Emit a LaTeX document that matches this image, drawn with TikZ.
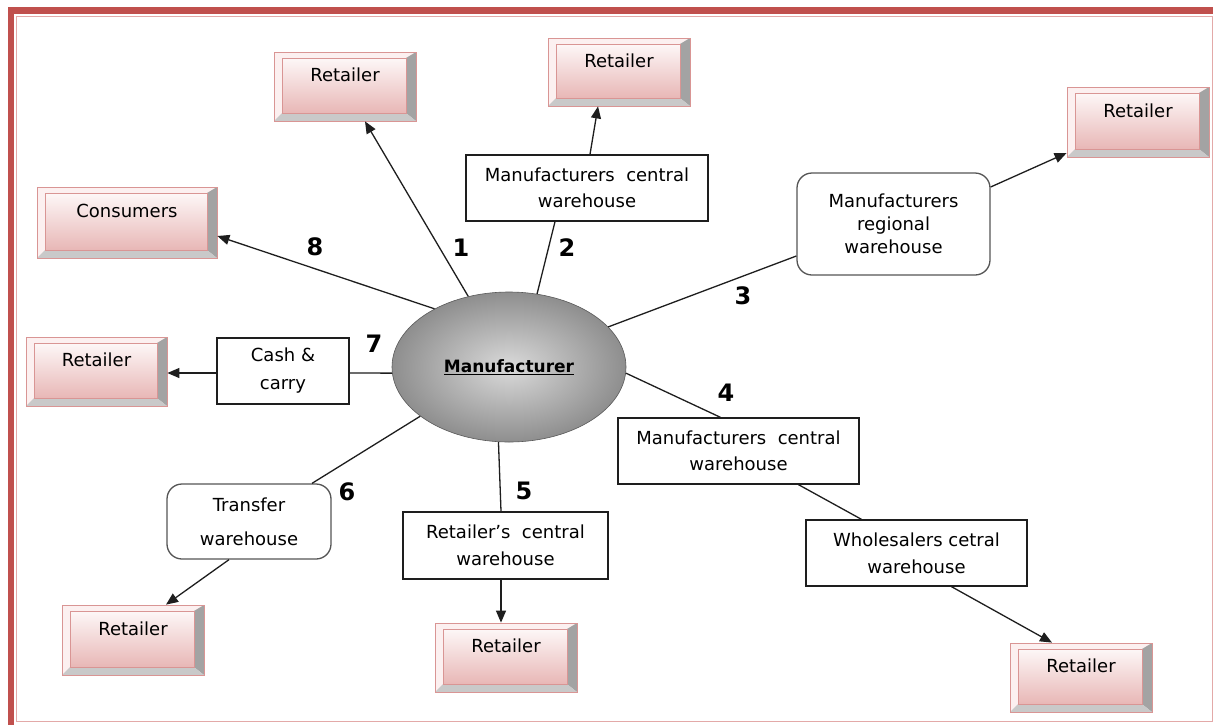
\documentclass[tikz,border=0pt]{standalone}
\usepackage{fontspec}
\setmainfont{DejaVu Sans}
\usetikzlibrary{shapes.geometric,arrows.meta,calc}

\definecolor{framered}{HTML}{C0504D}
\definecolor{framepink}{HTML}{E3A9A8}
\definecolor{bevelline}{HTML}{D99594}
\definecolor{bevelright}{HTML}{A3A3A3}
\definecolor{bevelbottom}{HTML}{C9C9C9}
\definecolor{bevelface}{HTML}{FCF0F0}
\definecolor{facetop}{HTML}{FDF7F7}
\definecolor{facebottom}{HTML}{E8B7B6}
\definecolor{inkline}{HTML}{1E1E1E}
\definecolor{roundline}{HTML}{555555}
\definecolor{hubcore}{HTML}{DADADA}
\definecolor{hubedge}{HTML}{8E8E8E}

\newcommand\boxfont{\fontsize{18}{26}\selectfont}
\newcommand\numfont{\fontsize{24}{26}\selectfont\bfseries}

\tikzset{
  % raised pink button used for the end points of the chains
  retailer/.style={
    minimum width=142pt, minimum height=69pt, inner sep=0pt,
    text height=14pt, text depth=24pt, font=\boxfont,
    fill=bevelface, draw=bevelline, line width=0.8pt,
    path picture={
      \path (path picture bounding box.north west) coordinate (bnw)
            (path picture bounding box.south east) coordinate (bse);
      \path ($(bnw)+(8,-6)$) coordinate (inw)
            ($(bse)+(-10,8)$) coordinate (ise);
      \fill[bevelright] (bse|-bnw) -- (bse) -- (ise) -- (ise|-inw) -- cycle;
      \fill[bevelbottom] (bnw|-bse) -- (bse) -- (ise) -- (inw|-ise) -- cycle;
      \shade[top color=facetop, bottom color=facebottom]
        (inw) rectangle (ise);
      \draw[bevelline, line width=0.8pt] (inw) rectangle (ise);
    }},
  plainbox/.style={draw=inkline, line width=1.3pt, fill=white,
    font=\boxfont, align=center, inner sep=0pt},
  roundbox/.style={plainbox, draw=roundline, rounded corners=15pt},
  hub/.style={ellipse, minimum width=234pt, minimum height=150pt,
    inner sep=0pt, draw=gray!70!black, line width=0.6pt,
    inner color=hubcore, outer color=hubedge,
    font=\fontsize{17}{20}\selectfont\bfseries},
  num/.style={font=\numfont, inner sep=0pt},
  link/.style={draw=inkline, line width=1.3pt},
  feed/.style={link, -{Triangle[length=12pt,width=10pt]}},
}

\begin{document}
\begin{tikzpicture}[x=1pt,y=1pt]
  \path[use as bounding box, clip] (0,0) rectangle (1213,-724);
  \fill[white] (0,0) rectangle (1213,-724);

  % page frame
  \draw[framered, line width=6.5pt] (1300,-10.5) -- (11,-10.5) -- (11,-800);
  \draw[framepink, line width=1pt] (16,-16) rectangle (1212,-721);

  % central node
  \node[hub] (M) at (509,-367) {\underline{Manufacturer}};

  % intermediate warehouses
  \node[plainbox, minimum width=242pt, minimum height=66pt] (W2) at (587,-188)
    {Manufacturers\ \ central\\warehouse};
  \node[roundbox, minimum width=193pt, minimum height=102pt,
        font=\fontsize{18}{23}\selectfont] (RW) at (893.5,-224)
    {Manufacturers\\regional\\warehouse};
  \node[plainbox, minimum width=132pt, minimum height=66pt,
        font=\fontsize{18}{28}\selectfont] (CC) at (283,-371)
    {Cash \&\\carry};
  \node[plainbox, minimum width=241pt, minimum height=66pt] (W4) at (738.5,-451)
    {Manufacturers\ \ central\\warehouse};
  \node[plainbox, minimum width=221pt, minimum height=66pt,
        font=\fontsize{18}{27}\selectfont] (WS) at (916.5,-553)
    {Wholesalers cetral\\warehouse};
  \node[plainbox, minimum width=205pt, minimum height=67pt,
        font=\fontsize{18}{27}\selectfont] (RC) at (505.5,-545.5)
    {Retailer’s\ \ central\\warehouse};
  \node[roundbox, minimum width=164pt, minimum height=75pt,
        font=\fontsize{18}{34}\selectfont] (TW) at (249,-521.5)
    {Transfer\\warehouse};

  % end points
  \node[retailer] (R1) at (345,-86.5) {Retailer};
  \node[retailer, minimum height=68pt] (R2) at (619,-72) {Retailer};
  \node[retailer, minimum height=70pt] (R3) at (1138,-122) {Retailer};
  \node[retailer, minimum width=180pt, minimum height=71pt] (C) at (127,-222.5) {Consumers};
  \node[retailer, minimum width=141pt] (R4) at (96.5,-371.5) {Retailer};
  \node[retailer, minimum height=70pt] (R6) at (133,-640) {Retailer};
  \node[retailer] (R5) at (506,-657.5) {Retailer};
  \node[retailer] (R7) at (1081,-677.5) {Retailer};

  % channel 1
  \draw[feed] (M.120) -- ([xshift=20pt]R1.south);
  % channel 2
  \draw[link] (M.69) -- ([xshift=-32pt]W2.south);
  \draw[feed] ([xshift=3pt]W2.north) -- ([xshift=-21pt]R2.south);
  % channel 3
  \draw[link] (M.22) -- ([yshift=-32pt]RW.west);
  \draw[feed] ([yshift=37pt]RW.east) -- ([yshift=-31pt]R3.west);
  % channel 4
  \draw[link] (M.-3) -- ([xshift=-18pt]W4.north);
  \draw[link] ([xshift=60pt]W4.south) -- ([xshift=-55pt]WS.north);
  \draw[feed] ([xshift=35pt]WS.south) -- ([xshift=-29pt]R7.north);
  % channel 5
  \draw[link] (M.262) -- ([xshift=-4.5pt]RC.north);
  \draw[feed] ([xshift=-4.5pt]RC.south) -- ([xshift=-5pt]R5.north);
  % channel 6
  \draw[link] (M.209) -- ([xshift=63pt]TW.north);
  \draw[feed] ([xshift=-20pt]TW.south) -- ([xshift=33pt]R6.north);
  % channel 7
  \draw[link] (M.183) -- ([yshift=-2pt]CC.east);
  \draw[feed] ([yshift=-2pt]CC.west) -- ([yshift=-1.5pt]R4.east);
  % channel 8
  \draw[feed] (M.142) -- ([yshift=-13.5pt]C.east);

  % channel numbers
  \node[num] (n1) at (461,-248) {1};
  \node[num] (n2) at (567,-248) {2};
  \node[num] (n3) at (743,-296) {3};
  \node[num] (n4) at (726,-393) {4};
  \node[num] (n5) at (524,-491) {5};
  \node[num] (n6) at (347,-492) {6};
  \node[num] (n7) at (374,-344) {7};
  \node[num] (n8) at (315,-247) {8};
\end{tikzpicture}
\end{document}
